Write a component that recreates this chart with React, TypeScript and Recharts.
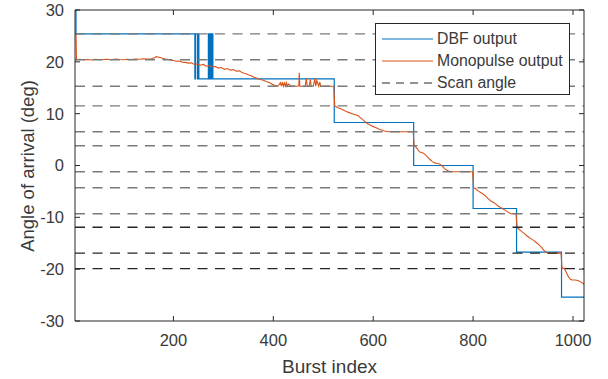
import React from 'react';
import { ComposedChart, Line, XAxis, YAxis, ReferenceLine } from 'recharts';

// ---- data ----
const xTicks = [200, 400, 600, 800, 1000];
const yTicks = [-30, -20, -10, 0, 10, 20, 30];

const scanAngles = [25.4, 20.4, 15.3, 11.5, 6.5, 3.8, -1.2, -4.3, -9.3, -11.9, -16.9, -19.9];

const dbfX = [3, 5, 243, 244, 248, 249, 251, 270, 271, 272, 273, 274, 275, 276, 277, 278, 279, 522, 681, 800, 887, 977, 1022];
const dbfY = [30, 25.4, 16.7, 25.4, 16.7, 25.4, 16.7, 25.4, 16.7, 25.4, 16.7, 25.4, 16.7, 25.4, 16.7, 25.4, 16.7, 8.3, 0, -8.3, -16.7, -25.4, -25.4];

const monoX = [
  3, 5, 6, 12, 20, 28, 36, 44, 52, 60, 68, 76, 84, 92, 100, 108, 116, 124, 132, 140, 148, 156, 162, 166, 170, 174, 178, 184, 190, 196, 200,
  206, 212, 218, 224, 230, 236, 242, 248, 254, 260, 266, 272, 278, 284, 290, 296, 302, 308, 314, 320, 326, 332, 338, 344, 350, 356, 362, 368, 374, 380, 386, 392, 398, 404, 410,
  414, 416, 418, 420, 422, 424, 426, 428, 430, 436, 442, 448, 451, 452, 453, 458, 464, 466, 468, 472, 474, 476, 480, 483, 485, 487, 491, 493, 495, 500, 508, 515, 521,
  523, 528, 534, 540, 546, 552, 558, 564, 570, 576, 582, 588, 594, 600, 606, 612, 618, 624, 630, 640, 650, 660, 670, 680,
  682, 686, 693, 698, 703, 708, 713, 718, 723, 728, 733, 738, 743, 748, 753, 760, 770, 780, 790, 799,
  801, 805, 810, 815, 820, 825, 830, 835, 840, 845, 850, 855, 860, 865, 870, 875, 880, 886,
  888, 892, 897, 902, 907, 912, 917, 922, 927, 932, 937, 942, 947, 952, 960, 968, 976,
  978, 982, 986, 990, 994, 998, 1004, 1010, 1016, 1022,
];
const monoY = [
  25.4, 25.4, 20.4, 20.5, 20.4, 20.45, 20.35, 20.5, 20.4, 20.45, 20.5, 20.4, 20.55, 20.45, 20.4, 20.5, 20.45, 20.55, 20.5, 20.6, 20.55, 20.6, 20.8, 21.0, 20.9, 20.85, 20.7, 20.55, 20.45, 20.3, 20.25,
  20.1, 20.15, 19.95, 19.9, 19.75, 19.8, 19.5, 19.6, 19.35, 19.5, 19.15, 19.3, 19.05, 19.1, 18.8, 18.9, 18.55, 18.7, 18.4, 18.5, 18.2, 18.25, 17.9, 17.75, 17.5, 17.3, 17.0, 16.8, 16.6, 16.45, 16.2, 16.0, 15.65, 15.45, 15.35,
  16.0, 15.3, 16.1, 15.3, 15.9, 15.3, 16.0, 15.3, 15.7, 15.3, 15.35, 15.3, 15.4, 17.9, 15.3, 15.3, 15.35, 16.8, 15.3, 15.3, 16.6, 15.3, 15.3, 16.7, 15.3, 16.4, 15.3, 16.1, 15.3, 15.3, 15.35, 15.3, 15.3,
  11.5, 11.2, 11.0, 10.7, 10.4, 10.2, 10.0, 9.8, 9.6, 9.1, 8.6, 8.1, 7.8, 7.5, 7.3, 7.0, 6.8, 6.6, 6.5, 6.5, 6.5, 6.5, 6.5, 6.5,
  3.8, 3.5, 2.6, 2.5, 2.2, 1.7, 1.2, 0.8, 0.5, 0.4, 0.3, -0.1, -0.6, -0.9, -1.2, -1.2, -1.2, -1.2, -1.2, -1.2,
  -4.3, -4.5, -4.9, -5.2, -5.5, -5.9, -6.4, -6.8, -7.1, -7.4, -7.8, -8.1, -8.4, -8.7, -9.0, -9.3, -9.3, -9.3,
  -11.9, -12.3, -12.7, -13.1, -13.5, -13.9, -14.2, -14.5, -14.9, -15.3, -15.8, -16.4, -16.8, -16.9, -16.9, -16.9, -16.9,
  -19.9, -19.8, -20.5, -21.3, -21.9, -22.1, -22.1, -22.2, -22.5, -22.9,
];

const legendLabels = ['DBF output', 'Monopulse output', 'Scan angle'];

const dbfData = dbfX.map((x, i) => ({ x, y: dbfY[i] }));
const monoData = monoX.map((x, i) => ({ x, y: monoY[i] }));

// ---- styles ----
const FONT = '"Liberation Sans", Arial, Helvetica, sans-serif';
const AXIS = '#262626';
const TEXT = '#3a3a3a';
const BLUE = '#0072BD';
const RED = '#D95319';
const X_DOMAIN: [number, number] = [3, 1022];
const Y_DOMAIN: [number, number] = [-30, 30];

const EmptyTick = () => <g />;

export default function App() {
  const legendColors = [BLUE, RED, AXIS];
  return (
    <div style={{ position: 'absolute', left: 0, top: 0, width: 608, height: 379, background: '#fff', fontFamily: FONT }}>
      <ComposedChart width={608} height={379} margin={{ top: 5, right: 14, bottom: 28, left: 25 }}>
        <XAxis
          xAxisId="b"
          type="number"
          dataKey="x"
          domain={X_DOMAIN}
          allowDataOverflow
          ticks={xTicks}
          interval={0}
          orientation="bottom"
          height={30}
          tickSize={-5}
          tickMargin={18}
          stroke={AXIS}
          tick={{ fill: TEXT, fontSize: 16.5, fontFamily: FONT }}
        />
        <XAxis
          xAxisId="t"
          type="number"
          dataKey="x"
          domain={X_DOMAIN}
          allowDataOverflow
          ticks={xTicks}
          interval={0}
          orientation="top"
          height={5}
          tickSize={-5}
          stroke={AXIS}
          tick={EmptyTick}
        />
        <YAxis
          yAxisId="l"
          type="number"
          domain={Y_DOMAIN}
          allowDataOverflow
          ticks={yTicks}
          interval={0}
          width={50}
          tickSize={-5}
          tickMargin={16}
          stroke={AXIS}
          tick={{ fill: TEXT, fontSize: 16.5, fontFamily: FONT }}
        />
        <YAxis
          yAxisId="r"
          orientation="right"
          type="number"
          domain={Y_DOMAIN}
          allowDataOverflow
          ticks={yTicks}
          interval={0}
          width={10}
          tickSize={-5}
          stroke={AXIS}
          tick={EmptyTick}
        />
        <Line
          xAxisId="b"
          yAxisId="l"
          data={dbfData}
          dataKey="y"
          type="stepAfter"
          stroke={BLUE}
          strokeWidth={1.2}
          dot={false}
          activeDot={false}
          isAnimationActive={false}
        />
        <Line
          xAxisId="b"
          yAxisId="l"
          data={monoData}
          dataKey="y"
          type="linear"
          stroke={RED}
          strokeWidth={1.1}
          dot={false}
          activeDot={false}
          isAnimationActive={false}
        />
        {scanAngles.map((a, i) => (
          <ReferenceLine
            key={i}
            xAxisId="b"
            yAxisId="l"
            y={a}
            stroke={i >= 9 ? '#262626' : '#7a7a7a'}
            strokeWidth={1.4}
            strokeDasharray="10 7.5"
          />
        ))}
      </ComposedChart>

      <div
        style={{
          position: 'absolute',
          left: 28,
          top: 165.5,
          transform: 'translate(-50%, -50%) rotate(-90deg)',
          whiteSpace: 'nowrap',
          fontSize: 18.5,
          color: TEXT,
          lineHeight: 1,
        }}
      >
        Angle of arrival (deg)
      </div>
      <div
        style={{
          position: 'absolute',
          left: 329.5,
          top: 366,
          transform: 'translate(-50%, -50%)',
          whiteSpace: 'nowrap',
          fontSize: 19,
          color: TEXT,
          lineHeight: 1,
        }}
      >
        Burst index
      </div>

      <div
        style={{
          position: 'absolute',
          left: 375,
          top: 23,
          width: 195,
          height: 72,
          border: `1px solid ${AXIS}`,
          background: '#fff',
          boxSizing: 'border-box',
        }}
      >
        {legendLabels.map((label, i) => (
          <div key={label} style={{ position: 'absolute', left: 0, top: 4 + i * 22, height: 22, width: '100%' }}>
            <svg width={60} height={22} style={{ position: 'absolute', left: 0, top: 0 }}>
              <line
                x1={6}
                x2={57}
                y1={11}
                y2={11}
                stroke={legendColors[i]}
                strokeWidth={i === 2 ? 1.2 : 1}
                strokeDasharray={i === 2 ? '8 6' : undefined}
              />
            </svg>
            <span
              style={{
                position: 'absolute',
                left: 61,
                top: 11,
                transform: 'translateY(-50%)',
                fontSize: 15.8,
                color: TEXT,
                lineHeight: 1,
                whiteSpace: 'nowrap',
              }}
            >
              {label}
            </span>
          </div>
        ))}
      </div>
    </div>
  );
}
